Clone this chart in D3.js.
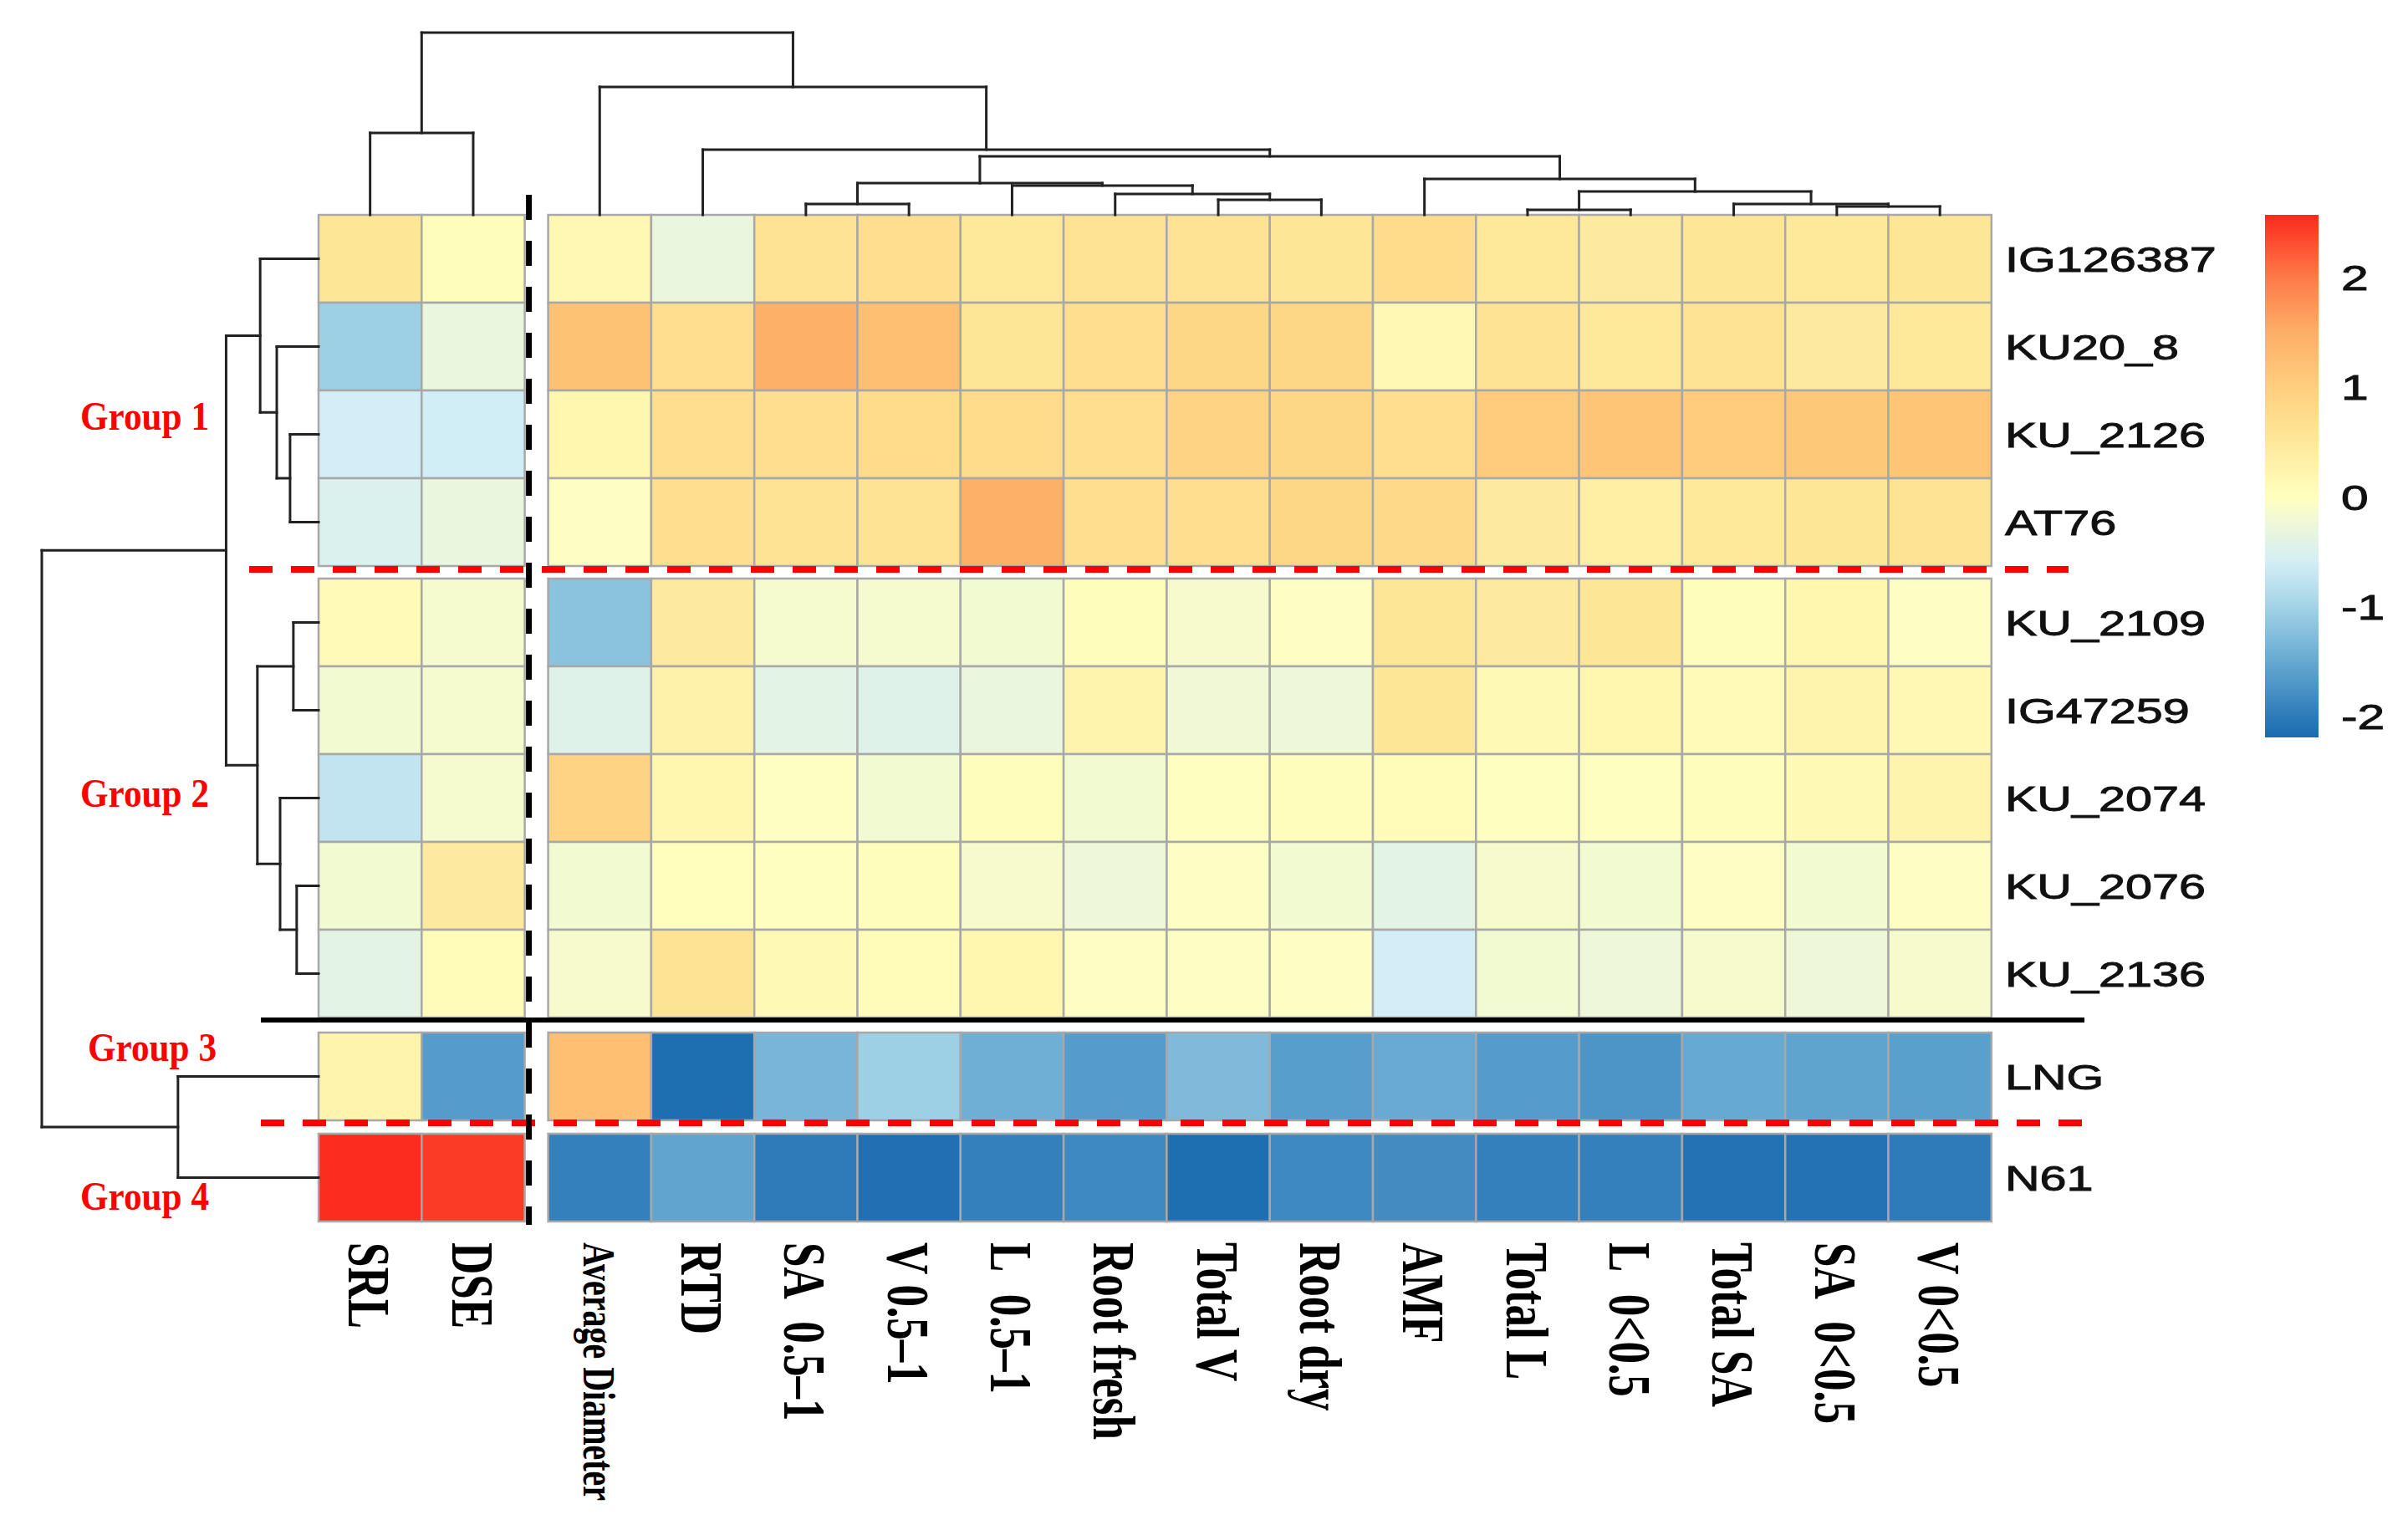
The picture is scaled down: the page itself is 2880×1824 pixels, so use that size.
<!DOCTYPE html>
<html>
<head>
<meta charset="utf-8">
<script src="https://cdn.jsdelivr.net/npm/d3@7"></script>
<style>
  html, body { margin: 0; padding: 0; background: #fff; }
  svg { display: block; }
</style>
</head>
<body>
<svg id="chart"></svg>
<script>
// genotypes (rows) and root traits (columns), in dendrogram order
var rowNames = ["IG126387", "KU20_8", "KU_2126", "AT76", "KU_2109", "IG47259",
                "KU_2074", "KU_2076", "KU_2136", "LNG", "N61"];
var colNames = ["SRL", "DSE", "Average Diameter", "RTD", "SA\u00a0 0.5\u20131", "V 0.5\u20131",
                "L\u00a0 0.5\u20131", "Root fresh", "Total V", "Root dry", "AMF", "Total L",
                "L\u00a0 0<0.5", "Total SA", "SA\u00a0 0<0.5", "V 0<0.5"];

// scaled values
var zScores = [
  [ 0.55,  0.05,  0.15, -0.30,  0.60,  0.70,  0.50,  0.60,  0.60,  0.55,  0.75,  0.50,  0.45,  0.55,  0.50,  0.55],
  [-1.05, -0.30,  1.20,  0.70,  1.45,  1.25,  0.55,  0.70,  0.85,  0.85,  0.15,  0.60,  0.50,  0.60,  0.45,  0.50],
  [-0.60, -0.62,  0.20,  0.70,  0.70,  0.75,  0.75,  0.70,  0.90,  0.85,  0.70,  1.05,  1.15,  1.05,  1.10,  1.15],
  [-0.50, -0.30, -0.05,  0.70,  0.60,  0.60,  1.45,  0.70,  0.70,  0.85,  0.80,  0.45,  0.35,  0.50,  0.55,  0.60],
  [ 0.10, -0.15, -1.20,  0.45, -0.15, -0.15, -0.18,  0.05, -0.12, -0.05,  0.55,  0.45,  0.55,  0.05,  0.20, -0.05],
  [-0.18, -0.15, -0.45,  0.30, -0.38, -0.45, -0.30,  0.25, -0.22, -0.25,  0.55,  0.12,  0.20,  0.10,  0.25,  0.15],
  [-0.75, -0.15,  0.90,  0.20, -0.03, -0.18,  0.05, -0.18, -0.02,  0.05,  0.08, -0.02, -0.02,  0.05,  0.12,  0.25],
  [-0.18,  0.45, -0.18,  0.03, -0.02,  0.05, -0.12, -0.25, -0.05, -0.18, -0.38, -0.12, -0.18, -0.05, -0.18, -0.05],
  [-0.38,  0.08, -0.12,  0.60,  0.12,  0.08,  0.20, -0.05, -0.05, -0.05, -0.60, -0.18, -0.25, -0.12, -0.25, -0.12],
  [ 0.25, -1.65,  1.25, -2.15, -1.35, -1.05, -1.42, -1.65, -1.30, -1.62, -1.48, -1.65, -1.72, -1.50, -1.56, -1.60],
  [ 2.55,  2.45, -1.95, -1.55, -2.00, -2.12, -1.95, -1.85, -2.15, -1.85, -1.82, -1.95, -1.95, -2.10, -2.10, -2.00]
];

// hclust style merges: negative = leaf (1-based), positive = earlier merge (1-based)
var colMerge = [[-5, -6], [-9, -10], [-8, 2], [-7, 3], [1, 4], [-12, -13], [-15, -16],
                [-14, 7], [6, 8], [-11, 9], [5, 10], [-4, 11], [-3, 12], [-1, -2], [14, 13]];
var colHeights = [0.60, 0.83, 1.15, 1.61, 1.74, 0.28, 0.46, 0.60, 1.28, 1.97, 3.21, 3.58, 7.02, 4.50, 10.0];
var rowMerge = [[-3, -4], [-2, 1], [-1, 2], [-5, -6], [-8, -9], [-7, 5], [4, 6], [3, 7], [-10, -11], [8, 9]];
var rowHeights = [1.03, 1.51, 2.11, 0.91, 0.79, 1.39, 2.21, 3.34, 5.08, 10.0];

var groupLabels = ["Group 1", "Group 2", "Group 3", "Group 4"];
var groupRows = [2, 6, 9, 10];
var legendTicks = [2, 1, 0, -1, -2];
var valueRange = [-2.19, 2.57];

// ---- layout
var W = 2880, H = 1824;
var cellW = 123.3, cellH = 105;
var heatLeft = 381, heatTop = 257;
var colGapAfter = 1, colGap = 28;
var rowGapAfter = [3, 8, 9], rowGaps = [15, 18, 16];

var svg = d3.select("#chart").attr("width", W).attr("height", H);
svg.append("rect").attr("width", W).attr("height", H).attr("fill", "#fff");

var x = d3.scaleBand().domain(d3.range(colNames.length))
    .range([heatLeft, heatLeft + cellW * colNames.length]);
var y = d3.scaleBand().domain(d3.range(rowNames.length))
    .range([heatTop, heatTop + cellH * rowNames.length]);

function colX(j) { return x(j) + (j > colGapAfter ? colGap : 0); }
function rowY(i) {
    var off = 0;
    rowGapAfter.forEach(function(g, k) { if (i > g) off += rowGaps[k]; });
    return y(i) + off;
}

var color = d3.scaleLinear()
    .domain([-2.19, -1.6, -1.0, -0.6, -0.3, 0, 0.5, 1.0, 1.5, 2.0, 2.57])
    .range(["#1a6ab0", "#5aa0cd", "#a3d3e7", "#d3eef6", "#eaf6de", "#ffffbf",
            "#fee89a", "#fecf7e", "#fdae66", "#fd7a48", "#fc2a1e"])
    .interpolate(d3.interpolateRgb)
    .clamp(true);

// ---- cells
var cells = [];
zScores.forEach(function(row, i) {
    row.forEach(function(v, j) { cells.push({ i: i, j: j, v: v }); });
});

svg.append("g").selectAll("rect")
    .data(cells)
    .join("rect")
    .attr("x", function(d) { return colX(d.j); })
    .attr("y", function(d) { return rowY(d.i); })
    .attr("width", x.bandwidth())
    .attr("height", y.bandwidth())
    .attr("fill", function(d) { return color(d.v); })
    .attr("stroke", "#a8a8a8")
    .attr("stroke-width", 2.5);

// ---- dendrograms
function treeSegments(merge, heights, leafPos) {
    var nodes = [], segs = [];
    function get(ref) { return ref < 0 ? { pos: leafPos(-ref - 1), h: 0 } : nodes[ref - 1]; }
    merge.forEach(function(m, k) {
        var a = get(m[0]), b = get(m[1]), h = heights[k];
        nodes.push({ pos: (a.pos + b.pos) / 2, h: h });
        segs.push([a.pos, a.h, a.pos, h]);
        segs.push([b.pos, b.h, b.pos, h]);
        segs.push([a.pos, h, b.pos, h]);
    });
    return segs;
}

var colH = d3.scaleLinear().domain([0, 10]).range([heatTop, 39]);
var colSegs = treeSegments(colMerge, colHeights, function(j) { return colX(j) + x.bandwidth() / 2; });
svg.append("g").selectAll("line")
    .data(colSegs)
    .join("line")
    .attr("x1", function(d) { return d[0]; })
    .attr("y1", function(d) { return colH(d[1]); })
    .attr("x2", function(d) { return d[2]; })
    .attr("y2", function(d) { return colH(d[3]); })
    .attr("stroke", "#222")
    .attr("stroke-width", 3)
    .attr("stroke-linecap", "square");

var rowH = d3.scaleLinear().domain([0, 10]).range([heatLeft, 50]);
var rowSegs = treeSegments(rowMerge, rowHeights, function(i) { return rowY(i) + y.bandwidth() / 2; });
svg.append("g").selectAll("line")
    .data(rowSegs)
    .join("line")
    .attr("x1", function(d) { return rowH(d[1]); })
    .attr("y1", function(d) { return d[0]; })
    .attr("x2", function(d) { return rowH(d[3]); })
    .attr("y2", function(d) { return d[2]; })
    .attr("stroke", "#222")
    .attr("stroke-width", 3)
    .attr("stroke-linecap", "square");

// ---- row labels
svg.append("g").selectAll("text")
    .data(rowNames)
    .join("text")
    .attr("transform", function(d, i) {
        return "translate(2398," + (rowY(i) + y.bandwidth() / 2) + ") scale(1.37,1)";
    })
    .attr("dy", "0.36em")
    .attr("font-family", "'Liberation Sans', Arial, sans-serif")
    .attr("font-size", 42)
    .attr("fill", "#111")
    .attr("stroke", "#111")
    .attr("stroke-width", 0.9)
    .text(function(d) { return d; });

// ---- column labels (rotated, reading downwards)
svg.append("g").selectAll("text")
    .data(colNames)
    .join("text")
    .attr("transform", function(d, j) {
        return "translate(" + (colX(j) + x.bandwidth() / 2) + ",1486) scale(1.37,1) rotate(90)";
    })
    .attr("dy", "0.35em")
    .attr("font-family", "'Liberation Serif', 'Times New Roman', serif")
    .attr("font-weight", "bold")
    .attr("font-size", function(d) { return d.length > 12 ? 40 : 53; })
    .attr("fill", "#000")
    .style("white-space", "pre")
    .text(function(d) { return d; });

// ---- group separators
var sepRed1 = rowY(3) + cellH + 4;
var sepBlack = rowY(8) + cellH + 3;
var sepRed2 = rowY(9) + cellH + 3;

svg.append("line")
    .attr("x1", 298).attr("x2", 2474)
    .attr("y1", sepRed1).attr("y2", sepRed1)
    .attr("stroke", "#ff0000").attr("stroke-width", 8)
    .attr("stroke-dasharray", "28,22");
svg.append("line")
    .attr("x1", 312).attr("x2", 2493)
    .attr("y1", sepBlack).attr("y2", sepBlack)
    .attr("stroke", "#000").attr("stroke-width", 6);
svg.append("line")
    .attr("x1", 312).attr("x2", 2493)
    .attr("y1", sepRed2).attr("y2", sepRed2)
    .attr("stroke", "#ff0000").attr("stroke-width", 8)
    .attr("stroke-dasharray", "28,22");

var sepX = colX(colGapAfter) + cellW + 5;
svg.append("line")
    .attr("x1", sepX).attr("x2", sepX)
    .attr("y1", 233).attr("y2", 1465)
    .attr("stroke", "#000").attr("stroke-width", 7)
    .attr("stroke-dasharray", "30,25");

// ---- group labels
var groupDy = [-6, 10, -19, 38];
var groupX = [96, 96, 105, 96];
svg.append("g").selectAll("text")
    .data(groupLabels)
    .join("text")
    .attr("transform", function(d, k) {
        return "translate(" + groupX[k] + "," + (rowY(groupRows[k]) + y.bandwidth() / 2 + groupDy[k]) + ") scale(0.9,1)";
    })
    .attr("font-family", "'Liberation Serif', 'Times New Roman', serif")
    .attr("font-weight", "bold")
    .attr("font-size", 48)
    .attr("fill", "#ff0000")
    .text(function(d) { return d; });

// ---- colour legend
var ly = d3.scaleLinear().domain([valueRange[1], valueRange[0]]).range([257, 882]);
var grad = svg.append("defs").append("linearGradient")
    .attr("id", "legendGrad")
    .attr("x1", 0).attr("y1", 0).attr("x2", 0).attr("y2", 1);
grad.selectAll("stop")
    .data(d3.range(0, 1.0001, 0.02))
    .join("stop")
    .attr("offset", function(t) { return t; })
    .attr("stop-color", function(t) { return color(ly.invert(257 + t * 625)); });

svg.append("rect")
    .attr("x", 2709).attr("y", ly(valueRange[1]))
    .attr("width", 64).attr("height", ly(valueRange[0]) - ly(valueRange[1]))
    .attr("fill", "url(#legendGrad)");

svg.append("g").selectAll("text")
    .data(legendTicks)
    .join("text")
    .attr("transform", function(d) { return "translate(2800," + ly(d) + ") scale(1.4,1)"; })
    .attr("dy", "0.36em")
    .attr("font-family", "'Liberation Sans', Arial, sans-serif")
    .attr("font-size", 42)
    .attr("fill", "#111")
    .attr("stroke", "#111")
    .attr("stroke-width", 0.9)
    .text(function(d) { return d; });
</script>
</body>
</html>
